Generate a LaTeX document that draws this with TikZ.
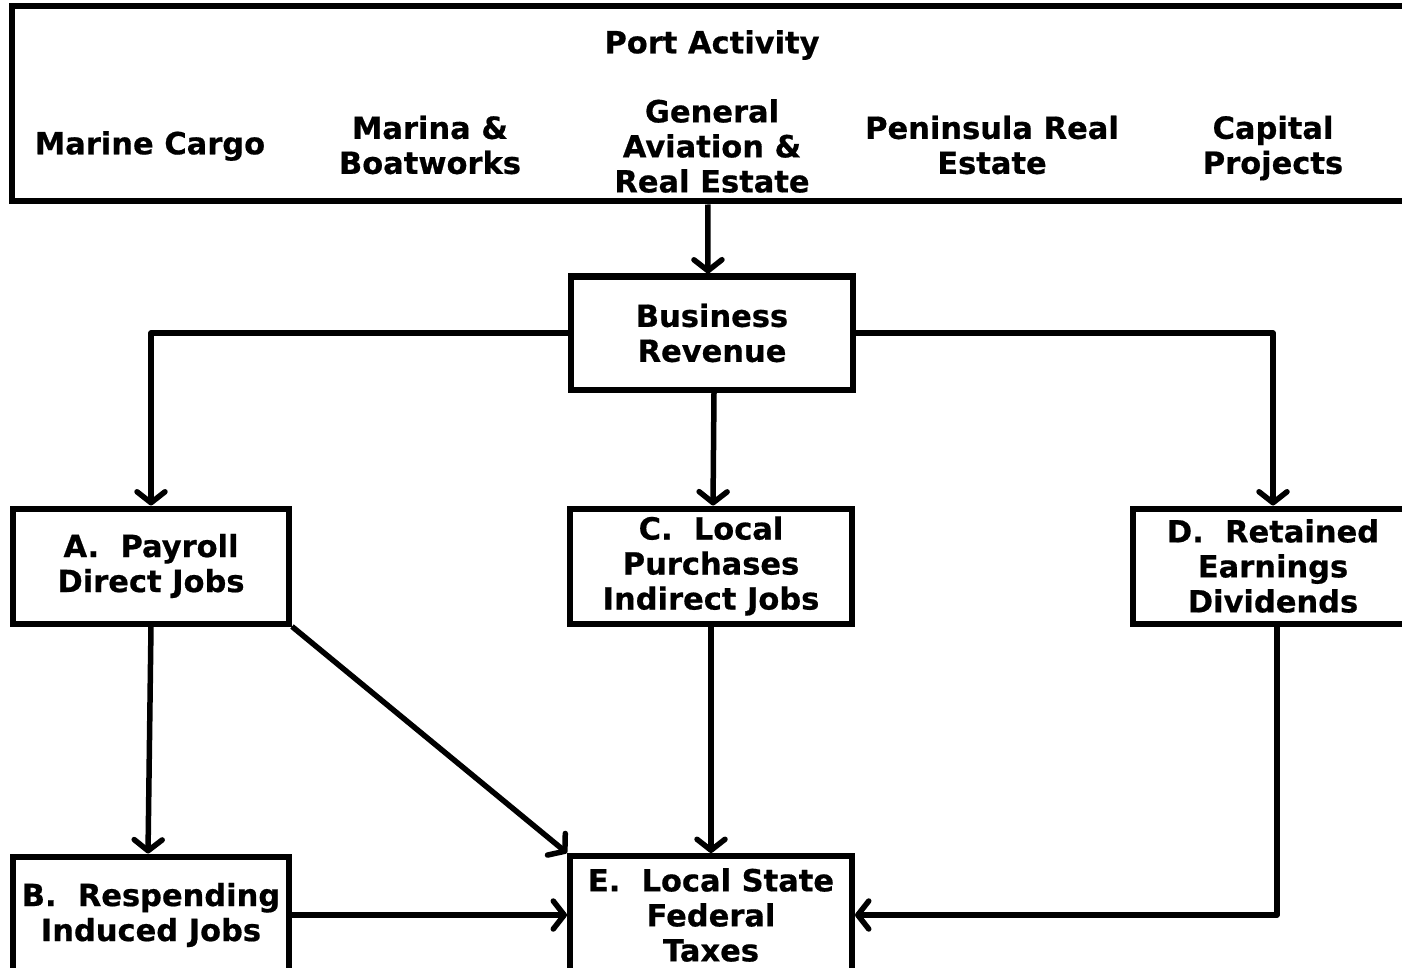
\documentclass[tikz,border=0pt]{standalone}
\usepackage{fontspec}
\newfontfamily\lblfont{DejaVu Sans}[BoldFeatures={FakeBold=0.6}]
\usetikzlibrary{arrows.meta}
\begin{document}
\begin{tikzpicture}[x=1pt,y=-1pt,
  lbl/.style={font=\lblfont\bfseries\fontsize{30.5}{35}\selectfont, align=center, inner sep=0pt},
  box/.style={lbl, draw, line width=6pt, line join=miter},
  arr/.style={line width=5.5pt, line join=round, -{Straight Barb[length=11pt,width=28pt,round]}}
]
\clip (0,0) rectangle (1402,968);
\fill[white] (0,0) rectangle (1402,968);
% top box
\node[box, minimum width=1400.5pt, minimum height=195pt] (port) at (711.75,104) {};
\node[lbl] (pa) at (712,45) {Port Activity};
\node[lbl] (mc) at (150,146) {Marine Cargo};
\node[lbl] (mb) at (430,145) {Marina \&\\Boatworks};
\node[lbl] (ga) at (712,146) {General\\Aviation \&\\Real Estate};
\node[lbl] (pr) at (992,145) {Peninsula Real\\Estate};
\node[lbl] (cp) at (1273,148) {Capital\\Projects};
% boxes
\node[box, minimum width=282pt, minimum height=113pt] (br) at (712,333) {Business\\Revenue};
\node[box, minimum width=276pt, minimum height=115pt] (A) at (151,566) {A.~~Payroll\\Direct Jobs};
\node[box, minimum width=282pt, minimum height=115pt] (C) at (711,566) {C.~~Local\\Purchases\\Indirect Jobs};
\node[box, minimum width=280pt, minimum height=115pt] (D) at (1273,566) {D.~~Retained\\Earnings\\Dividends};
\node[box, minimum width=276pt, minimum height=117pt] (B) at (151,915) {B.~~Respending\\Induced Jobs};
\node[box, minimum width=282pt, minimum height=118pt] (E) at (711,915) {E.~~Local State\\Federal\\Taxes};
% connectors
\draw[arr] ([xshift=-4pt]port.south) -- ([xshift=-4pt]br.north);
\draw[arr] (br.west) -| (A.north);
\draw[arr] ([xshift=2pt]br.south) -- ([xshift=2pt]C.north);
\draw[arr] (br.east) -| (D.north);
\draw[arr] (A.south) -- ([xshift=-3pt]B.north);
\draw[arr] (A.south east) -- (E.north west);
\draw[arr] (C.south) -- (E.north);
\draw[arr] ([xshift=4pt]D.south) |- (E.east);
\draw[arr] (B.east) -- (E.west);
\end{tikzpicture}
\end{document}
